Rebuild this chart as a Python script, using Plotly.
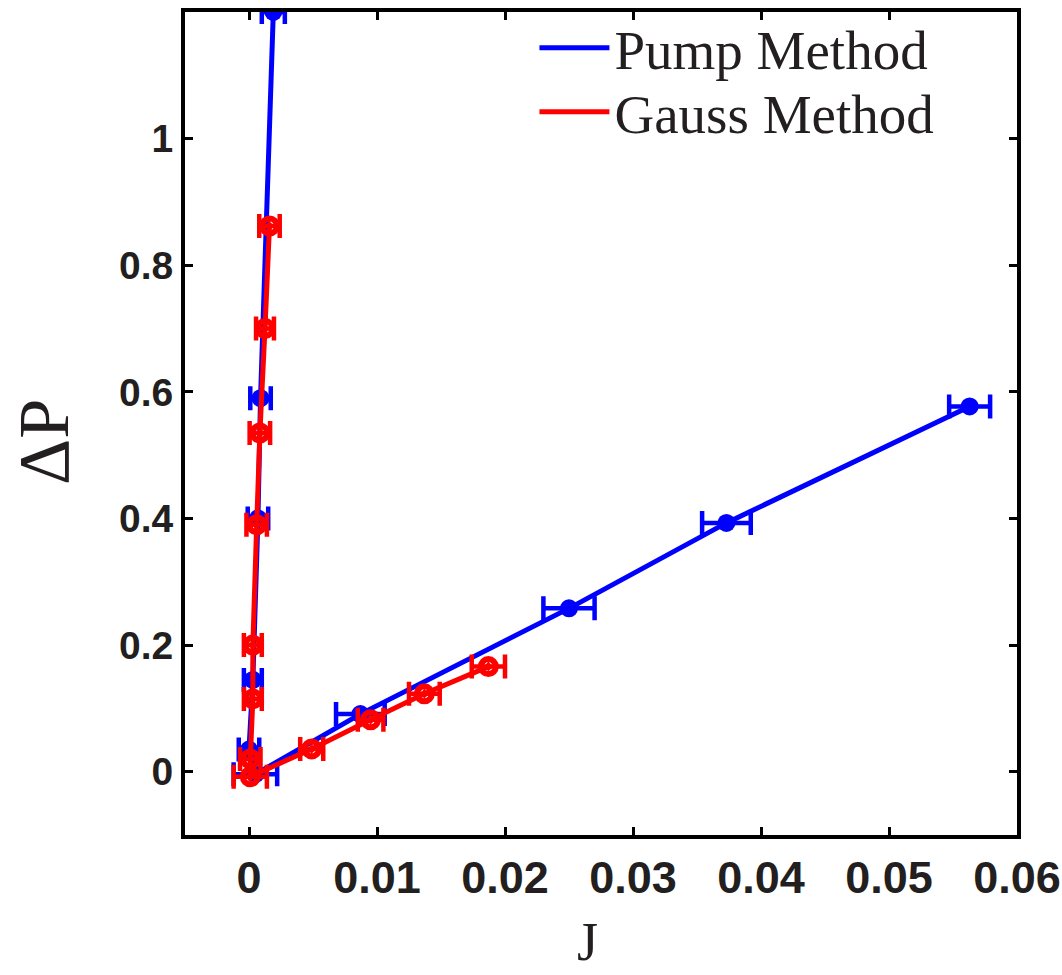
import plotly.graph_objects as go

# Pump Method (blue)
pump_j = [0.0563, 0.0373, 0.0250, 0.0087, 0.0005, 0.0000, 0.0003, 0.0007, 0.0009, 0.0019]
pump_dp = [0.577, 0.393, 0.258, 0.091, -0.004, 0.035, 0.145, 0.400, 0.590, 1.200]
pump_err = [0.0016, 0.0019, 0.0020, 0.0019, 0.0017, 0.0008, 0.0007, 0.0008, 0.0008, 0.0009]

# Gauss Method (red)
gauss_j = [0.0187, 0.0137, 0.0095, 0.0049, 0.0001, 0.0001, 0.0003, 0.0003, 0.0006, 0.00085, 0.00125, 0.0016]
gauss_dp = [0.166, 0.123, 0.082, 0.036, -0.008, 0.020, 0.115, 0.200, 0.390, 0.535, 0.700, 0.862]
gauss_err = [0.0013, 0.0012, 0.0010, 0.0009, 0.0013, 0.0008, 0.0007, 0.0007, 0.0008, 0.0008, 0.0007, 0.0008]

x_ticks = [0, 0.01, 0.02, 0.03, 0.04, 0.05, 0.06]
x_labels = ["0", "0.01", "0.02", "0.03", "0.04", "0.05", "0.06"]
y_ticks = [0, 0.2, 0.4, 0.6, 0.8, 1.0]
y_labels = ["0", "0.2", "0.4", "0.6", "0.8", "1"]

BLUE = "#0000ff"
RED = "#ff0000"

fig = go.Figure()
fig.add_trace(go.Scatter(
    x=pump_j, y=pump_dp, mode="lines+markers", showlegend=False, cliponaxis=True,
    line=dict(color=BLUE, width=5),
    marker=dict(color=BLUE, size=18, symbol="circle"),
    error_x=dict(type="data", array=pump_err, color=BLUE, thickness=4.5, width=12),
))
fig.add_trace(go.Scatter(
    x=gauss_j, y=gauss_dp, mode="lines+markers", showlegend=False, cliponaxis=True,
    line=dict(color=RED, width=5),
    marker=dict(color=RED, size=15, symbol="circle-open-dot", line=dict(color=RED, width=6)),
    error_x=dict(type="data", array=gauss_err, color=RED, thickness=4.5, width=12),
))
# legend entries (line only)
fig.add_trace(go.Scatter(x=[None], y=[None], mode="lines", name="Pump Method",
                         line=dict(color=BLUE, width=5), legend="legend"))
fig.add_trace(go.Scatter(x=[None], y=[None], mode="lines", name="Gauss Method",
                         line=dict(color=RED, width=5), legend="legend2"))

legend_common = dict(
    font=dict(family="Liberation Serif, Times New Roman, serif", size=55, color="#231f20"),
    bgcolor="rgba(0,0,0,0)", borderwidth=0, itemwidth=70,
    xanchor="left", yanchor="top",
)

fig.update_layout(
    width=1062, height=975,
    margin=dict(l=185, r=45, t=12, b=140, autoexpand=False),
    plot_bgcolor="white", paper_bgcolor="white",
    legend=dict(x=0.42, y=1.008, **legend_common),
    legend2=dict(x=0.42, y=0.930, **legend_common),
    xaxis=dict(
        range=[-0.005, 0.06], tickvals=x_ticks, ticktext=x_labels, automargin=False,
        showgrid=False, zeroline=False,
        showline=True, linecolor="black", linewidth=4, mirror="ticks",
        ticks="inside", ticklen=8, tickwidth=3, tickcolor="black",
        tickfont=dict(family="Liberation Sans Narrow, Arial Narrow, Liberation Sans, Arial, sans-serif",
                      size=45, color="#231f20", weight="bold"),
    ),
    yaxis=dict(
        range=[-0.1, 1.2], tickvals=y_ticks, ticktext=y_labels, automargin=False,
        showgrid=False, zeroline=False,
        showline=True, linecolor="black", linewidth=4, mirror="ticks",
        ticks="inside", ticklen=8, tickwidth=3, tickcolor="black",
        tickfont=dict(family="Liberation Sans, Arial, sans-serif", size=39,
                      color="#231f20", weight="bold"),
    ),
    annotations=[
        dict(text="ΔP", xref="paper", yref="paper", x=(44 - 185) / 832, y=(835 - 442) / 823,
             xanchor="center", yanchor="middle", textangle=-90, showarrow=False,
             font=dict(family="Liberation Serif, Times New Roman, serif", size=72, color="#231f20")),
        dict(text="J", xref="paper", yref="paper", x=(587 - 185) / 832, y=(835 - 974) / 823,
             xanchor="center", yanchor="bottom", showarrow=False,
             font=dict(family="Liberation Serif, Times New Roman, serif", size=54, color="#231f20")),
    ],
)

fig.write_html("out.html")
